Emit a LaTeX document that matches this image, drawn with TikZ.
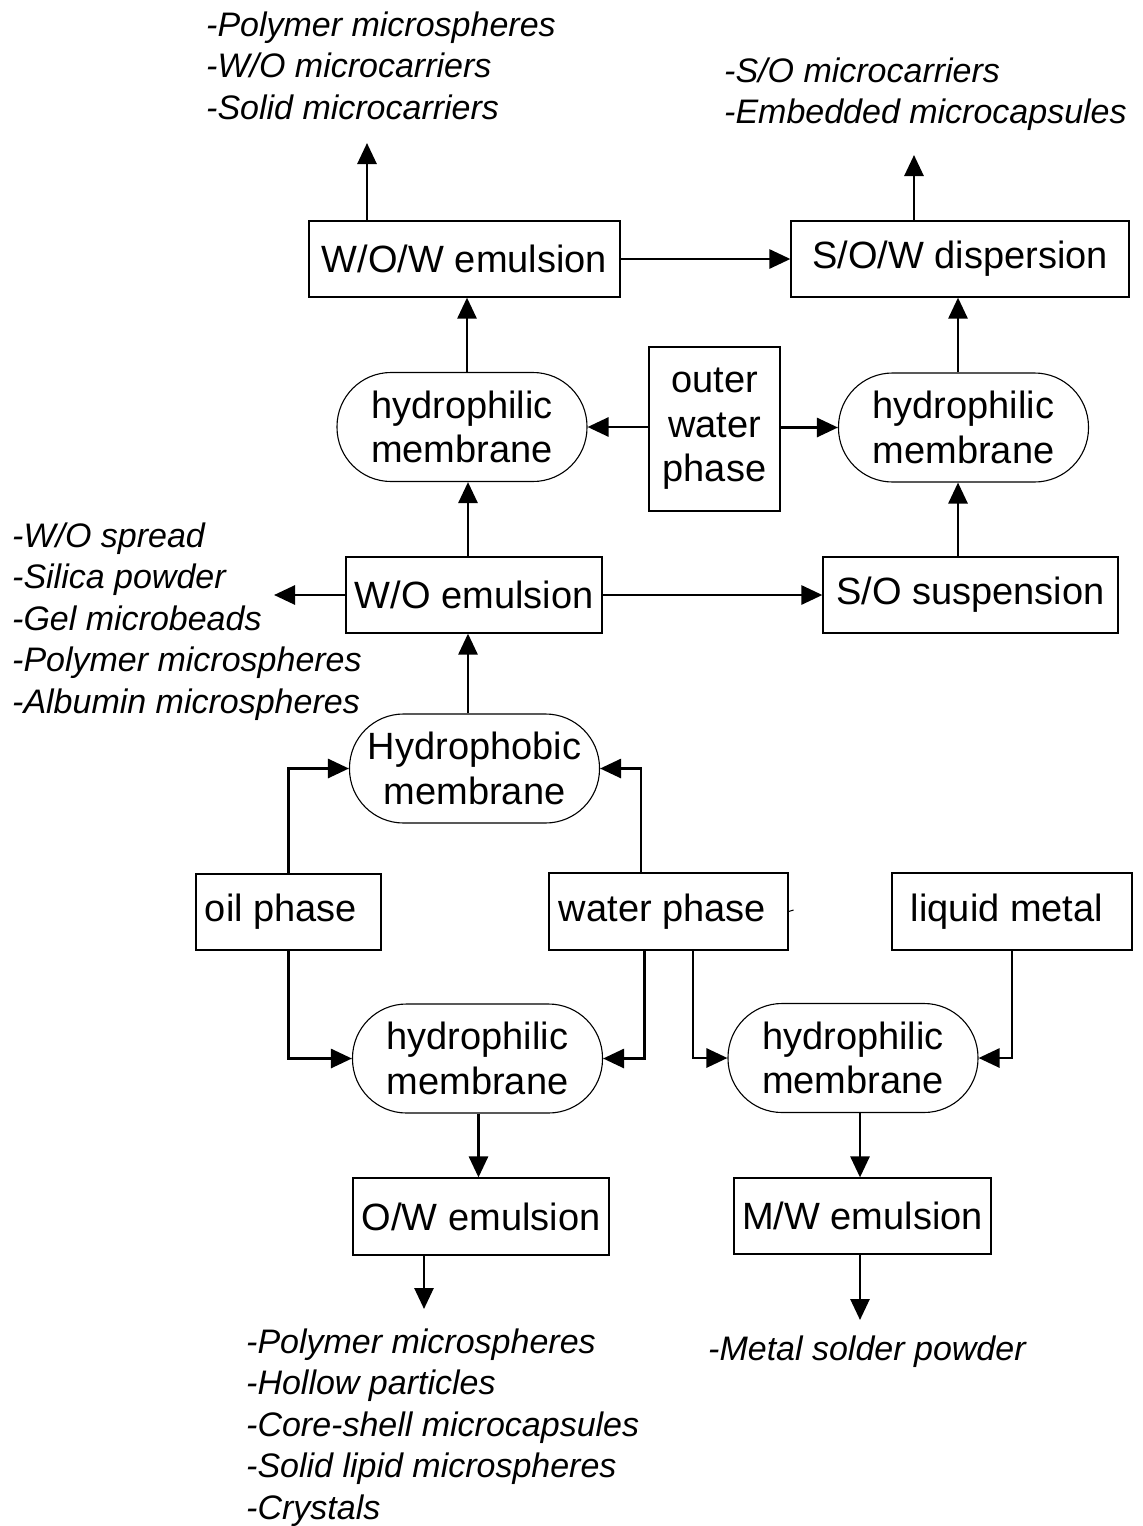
\documentclass[tikz,border=0pt]{standalone}
\usepackage{fontspec}
\setmainfont{Liberation Sans}
\usetikzlibrary{arrows.meta}
\newcommand\boxfont{\fontsize{38}{44.5}\selectfont}
\newcommand\lblfont{\itshape\fontsize{34}{41.5}\selectfont}
\begin{document}
\begin{tikzpicture}[x=1pt,y=-1pt,
  box/.style={draw, line width=1.2pt, inner sep=0pt, font=\boxfont, align=center},
  mem/.style={draw, line width=1.1pt, rounded corners=54pt, inner sep=0pt, align=center, font=\boxfont, minimum width=250pt, minimum height=109pt},
  lbl/.style={inner sep=0pt, align=left, anchor=north west, font=\lblfont},
  arr/.style={line width=2.8pt, -{Triangle[length=21pt,width=19pt]}}]
\useasboundingbox (0,0) rectangle (1143,1526);

% boxes
\node[box, minimum width=311pt, minimum height=76pt] (wow) at (464.5,259) {W/O/W emulsion};
\node[box, minimum width=338pt, minimum height=76pt] (sow) at (960,259) {S/O/W dispersion};
\node[mem] (m1) at (462,427) {hydrophilic\\membrane};
\node[box, minimum width=131pt, minimum height=164pt] (ow) at (714.5,429) {outer\\water\\phase};
\node[mem] (m2) at (963.5,427.5) {hydrophilic\\membrane};
\node[box, minimum width=256pt, minimum height=76pt] (wo) at (474,595) {W/O emulsion};
\node[box, minimum width=295pt, minimum height=76pt] (so) at (970.5,595) {S/O suspension};
\node[mem] (hm) at (474.5,768.5) {Hydrophobic\\membrane};
\node[box, minimum width=185pt, minimum height=76pt] (oil) at (288.5,912) {oil phase\hspace*{15pt}};
\node[box, minimum width=239pt, minimum height=77pt] (water) at (668.5,911.5) {water phase\hspace*{12pt}};
\node[box, minimum width=240pt, minimum height=77pt] (lm) at (1012,911.5) {liquid metal\hspace*{10pt}};
\node[mem] (mA) at (477.5,1058.5) {hydrophilic\\membrane};
\node[mem] (mB) at (853,1058) {hydrophilic\\membrane};
\node[box, minimum width=256pt, minimum height=77pt] (owe) at (481,1216.5) {O/W emulsion};
\node[box, minimum width=257pt, minimum height=76pt] (mw) at (862.5,1216) {M/W emulsion};

% labels
\node[lbl] (L1) at (206,11.5) {-Polymer microspheres\\-W/O microcarriers\\-Solid microcarriers};
\node[lbl] (L2) at (724,57.5) {-S/O microcarriers\\-Embedded microcapsules};
\node[lbl] (L3) at (12,522.5) {-W/O spread\\-Silica powder\\-Gel microbeads\\-Polymer microspheres\\-Albumin microspheres};
\node[lbl] (L4) at (246,1328.5) {-Polymer microspheres\\-Hollow particles\\-Core-shell microcapsules\\-Solid lipid microspheres\\-Crystals};
\node[lbl] (L5) at (708,1335.5) {-Metal solder powder};

% free ends and columns
\coordinate (t1) at (367,143);
\coordinate (t2) at (914,155);
\coordinate (t3) at (274,595);
\coordinate (t4) at (424,1309);
\coordinate (t5) at (860,1320);
\coordinate (cA) at (467,0);
\coordinate (cB) at (958,0);
\coordinate (cC) at (468,0);
\coordinate (cD) at (641,0);
\coordinate (cE) at (644.5,0);
\coordinate (cF) at (693,0);
\coordinate (cG) at (478.5,0);
\coordinate (cH) at (860,0);

% connectors
\draw[arr] (wow.north -| t1) -- (t1);
\draw[arr] (sow.north -| t2) -- (t2);
\draw[arr] (wow.east) -- (sow.west);
\draw[arr] (m1.north -| cA) -- (wow.south -| cA);
\draw[arr] (ow.west |- m1.east) -- (m1.east);
\draw[arr] (ow.east |- m2.west) -- (m2.west);
\draw[arr] (m2.north -| cB) -- (sow.south -| cB);
\draw[arr] (wo.north -| cC) -- (m1.south -| cC);
\draw[arr] (wo.east) -- (so.west);
\draw[arr] (wo.west) -- (t3);
\draw[arr] (so.north -| cB) -- (m2.south -| cB);
\draw[arr] (hm.north -| cC) -- (wo.south -| cC);
\draw[arr] (oil.north) |- (hm.west);
\draw[arr] (water.north -| cD) |- (hm.east);
\draw[arr] (oil.south) |- (mA.west);
\draw[arr] (water.south -| cE) |- (mA.east);
\draw[arr] (water.south -| cF) |- (mB.west);
\draw[arr] (lm.south) |- (mB.east);
\draw[arr] (mA.south -| cG) -- (owe.north -| cG);
\draw[arr] (mB.south -| cH) -- (mw.north -| cH);
\draw[arr] (owe.south -| t4) -- (t4);
\draw[arr] (mw.south -| t5) -- (t5);
\draw[line width=1pt] (water.east) -- ++(5,-1.5);
\end{tikzpicture}
\end{document}
